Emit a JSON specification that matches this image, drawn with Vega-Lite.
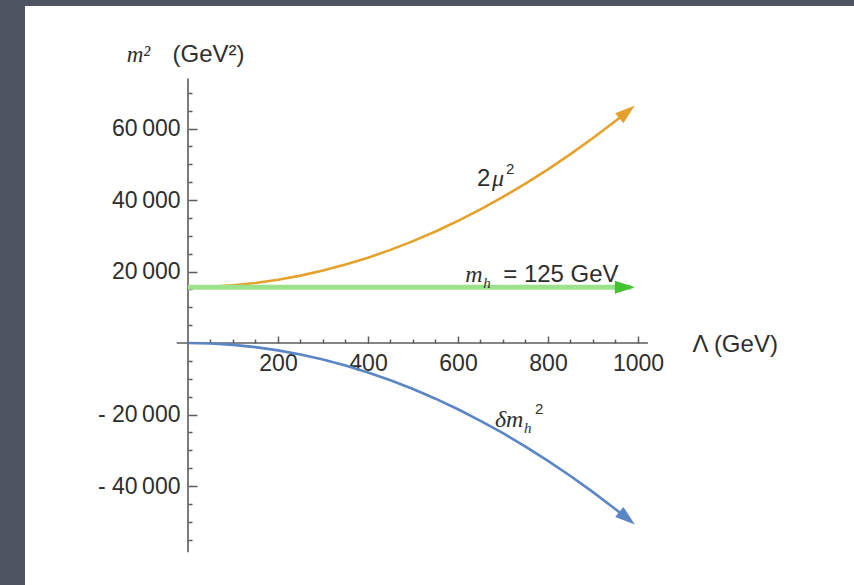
{
  "$schema": "https://vega.github.io/schema/vega-lite/v6.json",
  "width": 829,
  "height": 579,
  "autosize": {"type": "none"},
  "padding": {"left": 25, "top": 6, "right": 0, "bottom": 0},
  "background": "#4f5462",
  "config": {
    "view": {"fill": "white", "stroke": null},
    "axis": {"grid": false, "domain": false, "labelFont": "Liberation Sans", "titleFont": "Liberation Sans", "labelColor": "#2e2e2e", "titleColor": "#2e2e2e", "tickColor": "#5c5c5c", "tickWidth": 1.5, "titleFontWeight": "normal"}
  },
  "datasets": {
    "axes": [
      {"L": -25, "L2": 1022, "v": 0, "v2": 0},
      {"L": 0, "L2": 0, "v": -58500, "v2": 74000}
    ],
    "curves": [
      {"series": "2mu2", "L": 0, "v": 15625},
      {"series": "2mu2", "L": 50, "v": 15754},
      {"series": "2mu2", "L": 100, "v": 16140},
      {"series": "2mu2", "L": 150, "v": 16784},
      {"series": "2mu2", "L": 200, "v": 17685},
      {"series": "2mu2", "L": 250, "v": 18844},
      {"series": "2mu2", "L": 300, "v": 20260},
      {"series": "2mu2", "L": 350, "v": 21934},
      {"series": "2mu2", "L": 400, "v": 23865},
      {"series": "2mu2", "L": 450, "v": 26054},
      {"series": "2mu2", "L": 500, "v": 28500},
      {"series": "2mu2", "L": 550, "v": 31204},
      {"series": "2mu2", "L": 600, "v": 34165},
      {"series": "2mu2", "L": 650, "v": 37384},
      {"series": "2mu2", "L": 700, "v": 40860},
      {"series": "2mu2", "L": 750, "v": 44594},
      {"series": "2mu2", "L": 800, "v": 48585},
      {"series": "2mu2", "L": 850, "v": 52834},
      {"series": "2mu2", "L": 900, "v": 57340},
      {"series": "2mu2", "L": 950, "v": 62104},
      {"series": "2mu2", "L": 985, "v": 65592},
      {"series": "dmh2", "L": 0, "v": 0},
      {"series": "dmh2", "L": 50, "v": -129},
      {"series": "dmh2", "L": 100, "v": -515},
      {"series": "dmh2", "L": 150, "v": -1159},
      {"series": "dmh2", "L": 200, "v": -2060},
      {"series": "dmh2", "L": 250, "v": -3219},
      {"series": "dmh2", "L": 300, "v": -4635},
      {"series": "dmh2", "L": 350, "v": -6309},
      {"series": "dmh2", "L": 400, "v": -8240},
      {"series": "dmh2", "L": 450, "v": -10429},
      {"series": "dmh2", "L": 500, "v": -12875},
      {"series": "dmh2", "L": 550, "v": -15579},
      {"series": "dmh2", "L": 600, "v": -18540},
      {"series": "dmh2", "L": 650, "v": -21759},
      {"series": "dmh2", "L": 700, "v": -25235},
      {"series": "dmh2", "L": 750, "v": -28969},
      {"series": "dmh2", "L": 800, "v": -32960},
      {"series": "dmh2", "L": 850, "v": -37209},
      {"series": "dmh2", "L": 900, "v": -41715},
      {"series": "dmh2", "L": 950, "v": -46479},
      {"series": "dmh2", "L": 985, "v": -49967},
      {"series": "mh", "L": 0, "v": 15625},
      {"series": "mh", "L": 985, "v": 15625}
    ],
    "arrows": [
      {"series": "2mu2", "L": 993, "v": 66407},
      {"series": "dmh2", "L": 993, "v": -50782},
      {"series": "mh", "L": 993, "v": 15625}
    ],
    "notes": [
      {"piece": "mu_2", "L": 642, "v": 43916, "text": "2"},
      {"piece": "mu_mu", "L": 642, "v": 43916, "text": "μ"},
      {"piece": "mu_sup", "L": 642, "v": 43916, "text": "2"},
      {"piece": "it0", "L": 616, "v": 17063, "text": "m"},
      {"piece": "mh_h", "L": 616, "v": 17063, "text": "h"},
      {"piece": "mh_rest", "L": 616, "v": 17063, "text": "= 125 GeV"},
      {"piece": "it0", "L": 682, "v": -23497, "text": "δm"},
      {"piece": "dm_h", "L": 682, "v": -23497, "text": "h"},
      {"piece": "dm_sup", "L": 682, "v": -23497, "text": "2"}
    ]
  },
  "resolve": {"axis": {"x": "independent", "y": "independent"}},
  "layer": [
    {
      "data": {"name": "axes"},
      "mark": {"type": "rule", "color": "#5c5c5c", "strokeWidth": 1.6},
      "encoding": {
        "x": {"field": "L", "type": "quantitative", "scale": {"domain": [-362.2, 1480], "nice": false, "zero": false},
          "axis": {"orient": "bottom", "offset": -242, "values": [200, 400, 600, 800, 1000], "ticks": false, "labelPadding": 9, "labelFontSize": 23, "labelFlush": false, "labelOverlap": false, "format": "d", "title": null}},
        "x2": {"field": "L2"},
        "y": {"field": "v", "type": "quantitative", "scale": {"domain": [-67692, 94266], "nice": false, "zero": false},
          "axis": {"orient": "left", "offset": -163, "values": [-40000, -20000, 20000, 40000, 60000], "ticks": false, "labelPadding": 8, "labelFontSize": 23, "labelFlush": false, "labelOverlap": false, "title": null,
            "labelExpr": "(datum.value < 0 ? '- ' : '') + format(abs(datum.value) / 1000, 'd') + '\u2009000'"}},
        "y2": {"field": "v2"}
      }
    },
    {
      "data": {"name": "curves"},
      "transform": [{"filter": "datum.series != 'mh'"}],
      "mark": {"type": "line", "strokeWidth": 2.6},
      "encoding": {
        "x": {"field": "L", "type": "quantitative", "scale": {"domain": [-362.2, 1480], "nice": false, "zero": false},
          "axis": {"orient": "bottom", "offset": -249, "values": [200, 400, 600, 800, 1000], "labels": false, "tickSize": 7,
            "title": "Λ (GeV)", "titleX": 667, "titleY": 15, "titleAlign": "left", "titleBaseline": "alphabetic", "titleAngle": 0, "titleFontSize": 24}},
        "y": {"field": "v", "type": "quantitative", "scale": {"domain": [-67692, 94266], "nice": false, "zero": false},
          "axis": {"orient": "left", "offset": -172, "values": [-40000, -20000, 20000, 40000, 60000], "labels": false, "tickSize": 9,
            "title": "(GeV²)", "titleX": 11, "titleY": 55, "titleAlign": "center", "titleBaseline": "alphabetic", "titleAngle": 0, "titleFontSize": 24}},
        "color": {"field": "series", "type": "nominal", "scale": {"domain": ["2mu2", "dmh2", "mh"], "range": ["#e5a12b", "#5b86c6", "#8fdc7c"]}, "legend": null}
      }
    },
    {
      "data": {"name": "curves"},
      "transform": [{"filter": "datum.series == 'mh'"}],
      "mark": {"type": "line", "strokeWidth": 5, "color": "#9ce28b"},
      "encoding": {
        "x": {"field": "L", "type": "quantitative", "scale": {"domain": [-362.2, 1480], "nice": false, "zero": false},
          "axis": {"orient": "bottom", "offset": -246, "values": [50, 100, 150, 250, 300, 350, 450, 500, 550, 650, 700, 750, 850, 900, 950], "labels": false, "tickSize": 4, "title": null}},
        "y": {"field": "v", "type": "quantitative", "scale": {"domain": [-67692, 94266], "nice": false, "zero": false},
          "axis": {"orient": "left", "offset": -167, "values": [-55000, -50000, -45000, -35000, -30000, -25000, -15000, -10000, -5000, 5000, 10000, 15000, 25000, 30000, 35000, 45000, 50000, 55000, 65000, 70000], "labels": false, "tickSize": 4,
            "title": "m²", "titleFont": "Liberation Serif", "titleFontStyle": "italic", "titleX": -54, "titleY": 55, "titleAlign": "center", "titleBaseline": "alphabetic", "titleAngle": 0, "titleFontSize": 23}}
      }
    },
    {
      "data": {"name": "arrows"},
      "transform": [{"filter": "datum.series == '2mu2'"}],
      "mark": {"type": "point", "shape": "M0,0L-2,-0.65L-2,0.65Z", "size": 400, "filled": true, "opacity": 1, "color": "#e5a12b", "angle": -39, "strokeWidth": 0},
      "encoding": {
        "x": {"field": "L", "type": "quantitative", "scale": {"domain": [-362.2, 1480], "nice": false, "zero": false}, "axis": null},
        "y": {"field": "v", "type": "quantitative", "scale": {"domain": [-67692, 94266], "nice": false, "zero": false}, "axis": null}
      }
    },
    {
      "data": {"name": "arrows"},
      "transform": [{"filter": "datum.series == 'dmh2'"}],
      "mark": {"type": "point", "shape": "M0,0L-2,-0.65L-2,0.65Z", "size": 400, "filled": true, "opacity": 1, "color": "#5b86c6", "angle": 39, "strokeWidth": 0},
      "encoding": {
        "x": {"field": "L", "type": "quantitative", "scale": {"domain": [-362.2, 1480], "nice": false, "zero": false}, "axis": null},
        "y": {"field": "v", "type": "quantitative", "scale": {"domain": [-67692, 94266], "nice": false, "zero": false}, "axis": null}
      }
    },
    {
      "data": {"name": "arrows"},
      "transform": [{"filter": "datum.series == 'mh'"}],
      "mark": {"type": "point", "shape": "M0,0L-2,-0.65L-2,0.65Z", "size": 400, "filled": true, "opacity": 1, "color": "#45c22f", "angle": 0, "strokeWidth": 0},
      "encoding": {
        "x": {"field": "L", "type": "quantitative", "scale": {"domain": [-362.2, 1480], "nice": false, "zero": false}, "axis": null},
        "y": {"field": "v", "type": "quantitative", "scale": {"domain": [-67692, 94266], "nice": false, "zero": false}, "axis": null}
      }
    },
    {
      "data": {"name": "notes"},
      "transform": [{"filter": "datum.piece == 'mu_2'"}],
      "mark": {"type": "text", "align": "left", "baseline": "alphabetic", "font": "Liberation Sans", "fontSize": 24, "color": "#2e2e2e"},
      "encoding": {
        "x": {"field": "L", "type": "quantitative", "scale": {"domain": [-362.2, 1480], "nice": false, "zero": false}, "axis": null},
        "y": {"field": "v", "type": "quantitative", "scale": {"domain": [-67692, 94266], "nice": false, "zero": false}, "axis": null},
        "text": {"field": "text"}
      }
    },
    {
      "data": {"name": "notes"},
      "transform": [{"filter": "datum.piece == 'mu_mu'"}],
      "mark": {"type": "text", "align": "left", "baseline": "alphabetic", "font": "Liberation Serif", "fontStyle": "italic", "fontSize": 24, "color": "#2e2e2e", "dx": 15},
      "encoding": {
        "x": {"field": "L", "type": "quantitative", "scale": {"domain": [-362.2, 1480], "nice": false, "zero": false}, "axis": null},
        "y": {"field": "v", "type": "quantitative", "scale": {"domain": [-67692, 94266], "nice": false, "zero": false}, "axis": null},
        "text": {"field": "text"}
      }
    },
    {
      "data": {"name": "notes"},
      "transform": [{"filter": "datum.piece == 'mu_sup'"}],
      "mark": {"type": "text", "align": "left", "baseline": "alphabetic", "font": "Liberation Sans", "fontSize": 15, "color": "#2e2e2e", "dx": 29, "dy": -12},
      "encoding": {
        "x": {"field": "L", "type": "quantitative", "scale": {"domain": [-362.2, 1480], "nice": false, "zero": false}, "axis": null},
        "y": {"field": "v", "type": "quantitative", "scale": {"domain": [-67692, 94266], "nice": false, "zero": false}, "axis": null},
        "text": {"field": "text"}
      }
    },
    {
      "data": {"name": "notes"},
      "transform": [{"filter": "datum.piece == 'it0'"}],
      "mark": {"type": "text", "align": "left", "baseline": "alphabetic", "font": "Liberation Serif", "fontStyle": "italic", "fontSize": 24, "color": "#2e2e2e"},
      "encoding": {
        "x": {"field": "L", "type": "quantitative", "scale": {"domain": [-362.2, 1480], "nice": false, "zero": false}, "axis": null},
        "y": {"field": "v", "type": "quantitative", "scale": {"domain": [-67692, 94266], "nice": false, "zero": false}, "axis": null},
        "text": {"field": "text"}
      }
    },
    {
      "data": {"name": "notes"},
      "transform": [{"filter": "datum.piece == 'mh_h'"}],
      "mark": {"type": "text", "align": "left", "baseline": "alphabetic", "font": "Liberation Serif", "fontStyle": "italic", "fontSize": 15, "color": "#2e2e2e", "dx": 18, "dy": 6},
      "encoding": {
        "x": {"field": "L", "type": "quantitative", "scale": {"domain": [-362.2, 1480], "nice": false, "zero": false}, "axis": null},
        "y": {"field": "v", "type": "quantitative", "scale": {"domain": [-67692, 94266], "nice": false, "zero": false}, "axis": null},
        "text": {"field": "text"}
      }
    },
    {
      "data": {"name": "notes"},
      "transform": [{"filter": "datum.piece == 'mh_rest'"}],
      "mark": {"type": "text", "align": "left", "baseline": "alphabetic", "font": "Liberation Sans", "fontSize": 24, "color": "#2e2e2e", "dx": 38},
      "encoding": {
        "x": {"field": "L", "type": "quantitative", "scale": {"domain": [-362.2, 1480], "nice": false, "zero": false}, "axis": null},
        "y": {"field": "v", "type": "quantitative", "scale": {"domain": [-67692, 94266], "nice": false, "zero": false}, "axis": null},
        "text": {"field": "text"}
      }
    },
    {
      "data": {"name": "notes"},
      "transform": [{"filter": "datum.piece == 'dm_h'"}],
      "mark": {"type": "text", "align": "left", "baseline": "alphabetic", "font": "Liberation Serif", "fontStyle": "italic", "fontSize": 15, "color": "#2e2e2e", "dx": 29, "dy": 6},
      "encoding": {
        "x": {"field": "L", "type": "quantitative", "scale": {"domain": [-362.2, 1480], "nice": false, "zero": false}, "axis": null},
        "y": {"field": "v", "type": "quantitative", "scale": {"domain": [-67692, 94266], "nice": false, "zero": false}, "axis": null},
        "text": {"field": "text"}
      }
    },
    {
      "data": {"name": "notes"},
      "transform": [{"filter": "datum.piece == 'dm_sup'"}],
      "mark": {"type": "text", "align": "left", "baseline": "alphabetic", "font": "Liberation Sans", "fontSize": 15, "color": "#2e2e2e", "dx": 40, "dy": -13},
      "encoding": {
        "x": {"field": "L", "type": "quantitative", "scale": {"domain": [-362.2, 1480], "nice": false, "zero": false}, "axis": null},
        "y": {"field": "v", "type": "quantitative", "scale": {"domain": [-67692, 94266], "nice": false, "zero": false}, "axis": null},
        "text": {"field": "text"}
      }
    }
  ]
}
